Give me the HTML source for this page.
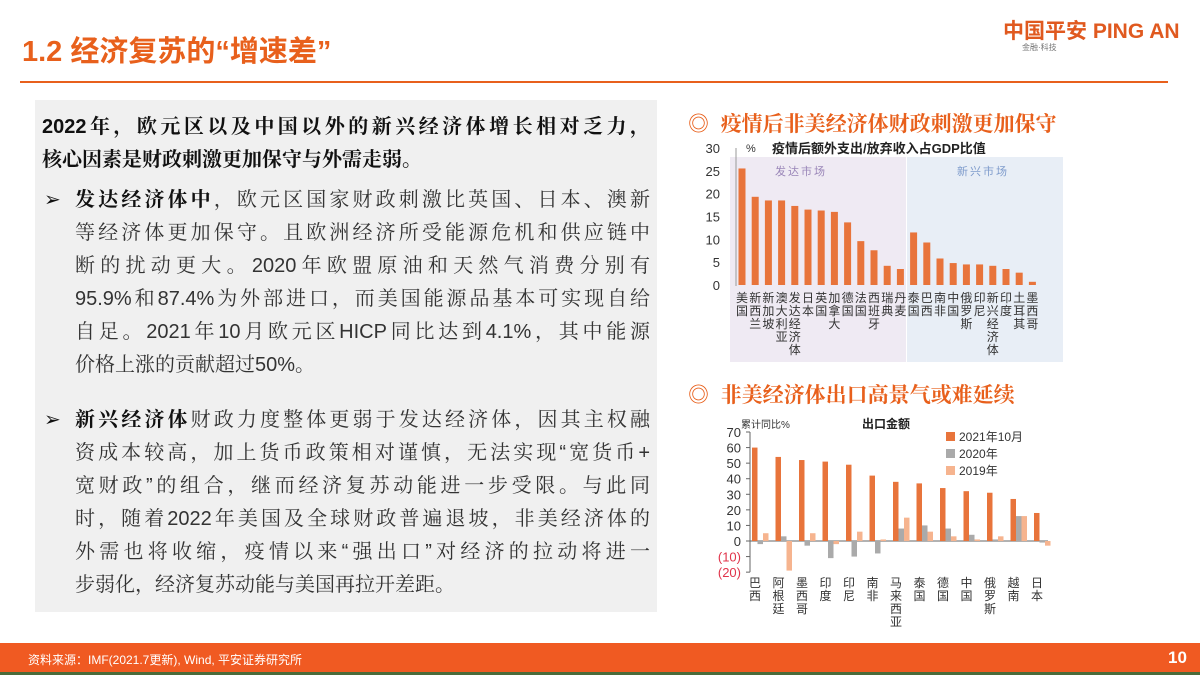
<!DOCTYPE html>
<html><head><meta charset="utf-8">
<style>
body{margin:0;width:1200px;height:675px;overflow:hidden;background:#fff;position:relative;font-family:"Liberation Sans","Noto Sans CJK SC",sans-serif;}
.abs{position:absolute;}
.ln{position:absolute;font-family:"Liberation Sans","Noto Serif CJK SC",serif;font-size:20px;color:#333;white-space:nowrap;text-align:justify;text-align-last:justify;height:26px;line-height:26px;}
.ln.nj{text-align-last:left;}
.b{font-weight:bold;color:#111;}
.h2{position:absolute;font-family:"Liberation Sans","Noto Serif CJK SC",serif;font-weight:bold;font-size:21px;color:#e8601c;white-space:nowrap;}
</style></head><body>
<div class="abs" style="left:22px;top:28px;font-size:29px;font-weight:bold;color:#e8601c;font-family:'Liberation Sans','Noto Sans CJK SC',sans-serif;">1.2 经济复苏的“增速差”</div>
<div class="abs" style="left:1003px;top:15px;font-size:21px;font-weight:bold;color:#e0591f;white-space:nowrap;">中国平安 PING AN</div>
<div class="abs" style="left:1022px;top:42px;font-size:8px;color:#777;">金融·科技</div>
<div class="abs" style="left:20px;top:81px;width:1148px;height:2px;background:#e8601c;"></div>

<div class="abs" style="left:35px;top:100px;width:622px;height:512px;background:#f0f0f0;"></div>
<div class="ln b" style="left:42px;top:114px;width:608px;">2022年，欧元区以及中国以外的新兴经济体增长相对乏力，</div>
<div class="ln b nj" style="left:42px;top:147px;">核心因素是财政刺激更加保守与外需走弱。</div>

<div class="ln nj" style="left:44px;top:187px;color:#111;">➢</div>
<div class="ln" style="left:75px;top:187px;width:575px;"><span class="b">发达经济体中</span>，欧元区国家财政刺激比英国、日本、澳新</div>
<div class="ln" style="left:75px;top:220px;width:575px;">等经济体更加保守。且欧洲经济所受能源危机和供应链中</div>
<div class="ln" style="left:75px;top:253px;width:575px;">断的扰动更大。2020年欧盟原油和天然气消费分别有</div>
<div class="ln" style="left:75px;top:286px;width:575px;">95.9%和87.4%为外部进口，而美国能源品基本可实现自给</div>
<div class="ln" style="left:75px;top:319px;width:575px;">自足。2021年10月欧元区HICP同比达到4.1%，其中能源</div>
<div class="ln nj" style="left:75px;top:352px;">价格上涨的贡献超过50%。</div>

<div class="ln nj" style="left:44px;top:407px;color:#111;">➢</div>
<div class="ln" style="left:75px;top:407px;width:575px;"><span class="b">新兴经济体</span>财政力度整体更弱于发达经济体，因其主权融</div>
<div class="ln" style="left:75px;top:440px;width:575px;">资成本较高，加上货币政策相对谨慎，无法实现“宽货币+</div>
<div class="ln" style="left:75px;top:473px;width:575px;">宽财政”的组合，继而经济复苏动能进一步受限。与此同</div>
<div class="ln" style="left:75px;top:506px;width:575px;">时，随着2022年美国及全球财政普遍退坡，非美经济体的</div>
<div class="ln" style="left:75px;top:539px;width:575px;">外需也将收缩，疫情以来“强出口”对经济的拉动将进一</div>
<div class="ln nj" style="left:75px;top:572px;">步弱化，经济复苏动能与美国再拉开差距。</div>

<div class="h2" style="left:688px;top:108px;">◎ &nbsp;疫情后非美经济体财政刺激更加保守</div>
<div class="h2" style="left:688px;top:379px;">◎ &nbsp;非美经济体出口高景气或难延续</div>

<svg class="abs" style="left:0;top:0" width="1200" height="675" id="charts"></svg>

<div class="abs" style="left:0;top:643px;width:1200px;height:29px;background:#f05a22;border-bottom:3px solid #4a6b3a;"></div>
<div class="abs" style="left:28px;top:651px;font-size:12px;color:#fff;white-space:nowrap;">资料来源：IMF(2021.7更新), Wind, 平安证券研究所</div>
<div class="abs" style="left:1168px;top:648px;font-size:17px;font-weight:bold;color:#fff;">10</div>

<script>
const c1Cats=["美国","新西兰","新加坡","澳大利亚","发达经济体","日本","英国","加拿大","德国","法国","西班牙","瑞典","丹麦","泰国","巴西","南非","中国","俄罗斯","印尼","新兴经济体","印度","土耳其","墨西哥"];
const c1Vals=[25.5,19.3,18.5,18.5,17.3,16.5,16.3,16,13.7,9.6,7.6,4.2,3.5,11.5,9.3,5.8,4.8,4.5,4.5,4.2,3.5,2.7,0.7];
const c1Ticks=[0,5,10,15,20,25,30];
const c2Cats=["巴西","阿根廷","墨西哥","印度","印尼","南非","马来西亚","泰国","德国","中国","俄罗斯","越南","日本"];
const s2021=[60,54,52,51,49,42,38,37,34,32,31,27,18];
const s2020=[-2,3,-3,-11,-10,-8,8,10,8,4,1,16,-1];
const s2019=[5,-19,5,-2,6,1,15,6,3,1,3,16,-3];
const c2Ticks=[-20,-10,0,10,20,30,40,50,60,70];
const c2TickLabels=["(20)","(10)","0","10","20","30","40","50","60","70"];

const svg=document.getElementById('charts');
const NS='http://www.w3.org/2000/svg';
function mk(t,a,txt){const e=document.createElementNS(NS,t);for(const k in a)e.setAttribute(k,a[k]);if(txt!==undefined)e.textContent=txt;svg.appendChild(e);return e;}
const FONT='"Liberation Sans","Noto Sans CJK SC",sans-serif';

// Chart 1
const y1=v=>285-v*4.57;
const x1=i=>742+i*13.2;
let e;
e=mk('rect',{x:730,y:157,width:176,height:205,fill:'#efeaf3'});

e=mk('rect',{x:907,y:157,width:156,height:205,fill:'#e8eef6'});

e=mk('text',{x:775,y:175,'font-size':11,fill:'#9a86b8','font-family':FONT,'letter-spacing':2},'发达市场');

e=mk('text',{x:957,y:175,'font-size':11,fill:'#7f9ccc','font-family':FONT,'letter-spacing':2},'新兴市场');

e=mk('line',{x1:736,y1:148,x2:736,y2:286,stroke:'#999','stroke-width':1});

c1Ticks.forEach(t=>{e=mk('text',{x:720,y:y1(t)+5,'font-size':13,fill:'#333','text-anchor':'end','font-family':FONT},String(t));
});
e=mk('text',{x:746,y:152,'font-size':11,fill:'#333','font-family':FONT},'%');

e=mk('text',{x:772,y:153,'font-size':13,'font-weight':'bold',fill:'#222','font-family':FONT},'疫情后额外支出/放弃收入占GDP比值');

c1Vals.forEach((v,i)=>{e=mk('rect',{x:x1(i)-3.5,y:y1(v),width:7,height:y1(0)-y1(v),fill:'#e8743b'});
});
c1Cats.forEach((c,i)=>{[...c].forEach((ch,j)=>{e=mk('text',{x:x1(i),y:302+j*13,'font-size':12,fill:'#333','text-anchor':'middle','font-family':FONT},ch);
});});

// Chart 2
const y2=v=>541-v*1.557;
const x2=i=>755+i*23.5;
e=mk('line',{x1:750,y1:y2(70),x2:750,y2:y2(-20),stroke:'#666','stroke-width':1});

e=mk('line',{x1:750,y1:y2(0),x2:1048,y2:y2(0),stroke:'#666','stroke-width':1});

c2Ticks.forEach((t,k)=>{e=mk('text',{x:741,y:y2(t)+5,'font-size':13,fill:t<0?'#e0334a':'#333','text-anchor':'end','font-family':FONT},c2TickLabels[k]);

e=mk('line',{x1:746,y1:y2(t),x2:750,y2:y2(t),stroke:'#666'});
});
e=mk('text',{x:741,y:428,'font-size':10,fill:'#333','font-family':FONT},'累计同比%');

e=mk('text',{x:862,y:428,'font-size':12,'font-weight':'bold',fill:'#222','font-family':FONT},'出口金额');

function bar(v,x,col,nm){const y=Math.min(y2(v),y2(0));const h=Math.abs(y2(v)-y2(0));e=mk('rect',{x:x,y:y,width:5.5,height:h,fill:col});
}
c2Cats.forEach((c,i)=>{const g=x2(i)-3;
bar(s2021[i],g,'#e8743b','bar-2021-'+c);bar(s2020[i],g+5.5,'#aaaaaa','bar-2020-'+c);bar(s2019[i],g+11,'#f6b48f','bar-2019-'+c);
[...c].forEach((ch,j)=>{e=mk('text',{x:x2(i),y:587+j*13,'font-size':12,fill:'#333','text-anchor':'middle','font-family':FONT},ch);
});});
[['#e8743b','2021年10月'],['#aaaaaa','2020年'],['#f6b48f','2019年']].forEach((l,k)=>{
e=mk('rect',{x:946,y:432+k*17,width:9,height:9,fill:l[0]});

e=mk('text',{x:959,y:441+k*17,'font-size':12,fill:'#333','font-family':FONT},l[1]);
});
</script>
</body></html>
